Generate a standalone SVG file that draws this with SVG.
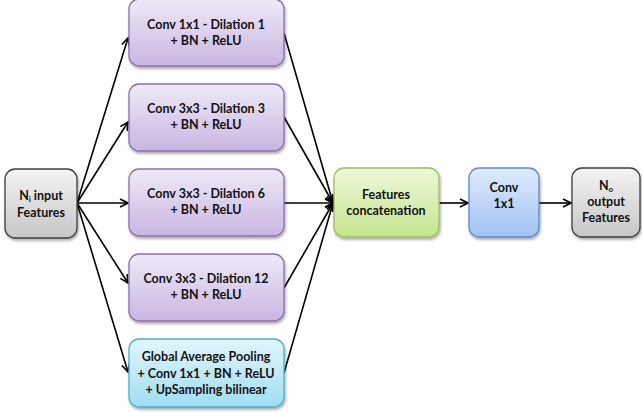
<svg xmlns="http://www.w3.org/2000/svg" width="642" height="412" viewBox="0 0 642 412">
<defs>
<linearGradient id="gGray" x1="0" y1="0" x2="0" y2="1"><stop offset="0" stop-color="#f4f4f4"/><stop offset="1" stop-color="#c6c6c6"/></linearGradient>
<linearGradient id="gPurple" x1="0" y1="0" x2="0" y2="1"><stop offset="0" stop-color="#efe9f7"/><stop offset="1" stop-color="#c9b6e2"/></linearGradient>
<linearGradient id="gGreen" x1="0" y1="0" x2="0" y2="1"><stop offset="0" stop-color="#eef8da"/><stop offset="1" stop-color="#c5e48e"/></linearGradient>
<linearGradient id="gBlue" x1="0" y1="0" x2="0" y2="1"><stop offset="0" stop-color="#dfeafc"/><stop offset="1" stop-color="#a0c2f3"/></linearGradient>
<linearGradient id="gCyan" x1="0" y1="0" x2="0" y2="1"><stop offset="0" stop-color="#e2f5fc"/><stop offset="1" stop-color="#a0ddf3"/></linearGradient>
<filter id="sh" x="-10%" y="-10%" width="125%" height="130%"><feGaussianBlur in="SourceAlpha" stdDeviation="1.5"/><feOffset dx="1" dy="2" result="b"/><feComponentTransfer><feFuncA type="linear" slope="0.35"/></feComponentTransfer><feMerge><feMergeNode/><feMergeNode in="SourceGraphic"/></feMerge></filter>
<marker id="ah" markerWidth="10" markerHeight="10" refX="9" refY="5" orient="auto" markerUnits="userSpaceOnUse"><path d="M1,1 L9,5 L1,9" fill="none" stroke="#000" stroke-width="1.6"/></marker>
</defs>
<style>
.box{stroke-width:1.3;filter:url(#sh)}
.gray{fill:url(#gGray);stroke:#3f3f3f}
.purple{fill:url(#gPurple);stroke:#8a6fb0}
.green{fill:url(#gGreen);stroke:#9cbf5e}
.blue{fill:url(#gBlue);stroke:#5b8cc9}
.cyan{fill:url(#gCyan);stroke:#4ab0d0}
text{font-family:Lato,"Liberation Sans",sans-serif;font-weight:bold;font-size:12.5px;fill:#111;text-anchor:middle}
.conn line{stroke:#000;stroke-width:1.6;marker-end:url(#ah)}
</style>
<g id="connectors" class="conn">
<line x1="77" y1="203" x2="128" y2="38"/>
<line x1="77" y1="203" x2="128" y2="122"/>
<line x1="77" y1="203" x2="128" y2="203"/>
<line x1="77" y1="203" x2="128" y2="283"/>
<line x1="77" y1="203" x2="128" y2="372"/>
<line x1="284" y1="33" x2="333" y2="203"/>
<line x1="284" y1="117" x2="333" y2="203"/>
<line x1="284" y1="203" x2="333" y2="203"/>
<line x1="284" y1="288" x2="333" y2="203"/>
<line x1="284" y1="373" x2="333" y2="203"/>
<line x1="439" y1="203" x2="468" y2="203"/>
<line x1="539" y1="203" x2="571" y2="203"/>
</g>
<g id="input"><rect class="box gray" x="5" y="169" width="72" height="69" rx="10"/>
<text x="41" y="200">N<tspan font-size="8" dy="2">i</tspan><tspan dy="-2"> input</tspan></text><text x="41" y="217">Features</text></g>
<g id="conv1"><rect class="box purple" x="129" y="-1" width="155" height="67" rx="10"/>
<text x="206" y="29">Conv 1x1 - Dilation 1</text><text x="206" y="45">+ BN + ReLU</text></g>
<g id="conv2"><rect class="box purple" x="129" y="84" width="155" height="67" rx="10"/>
<text x="206" y="113">Conv 3x3 - Dilation 3</text><text x="206" y="129">+ BN + ReLU</text></g>
<g id="conv3"><rect class="box purple" x="129" y="169" width="155" height="67" rx="10"/>
<text x="206" y="198">Conv 3x3 - Dilation 6</text><text x="206" y="214">+ BN + ReLU</text></g>
<g id="conv4"><rect class="box purple" x="129" y="254" width="155" height="67" rx="10"/>
<text x="206" y="283">Conv 3x3 - Dilation 12</text><text x="206" y="299">+ BN + ReLU</text></g>
<g id="gap"><rect class="box cyan" x="129" y="339" width="155" height="68" rx="10"/>
<text x="206" y="361">Global Average Pooling</text><text x="206" y="378">+ Conv 1x1 + BN + ReLU</text><text x="206" y="394">+ UpSampling bilinear</text></g>
<g id="concat"><rect class="box green" x="334" y="168" width="105" height="69" rx="10"/>
<text x="386" y="199">Features</text><text x="386" y="215">concatenation</text></g>
<g id="conv1x1"><rect class="box blue" x="469" y="168" width="70" height="69" rx="10"/>
<text x="504" y="192">Conv</text><text x="504" y="208">1x1</text></g>
<g id="output"><rect class="box gray" x="572" y="168" width="68" height="69" rx="10"/>
<text x="606" y="190">N<tspan font-size="8" dy="2">o</tspan></text><text x="606" y="206">output</text><text x="606" y="222">Features</text></g>
</svg>
